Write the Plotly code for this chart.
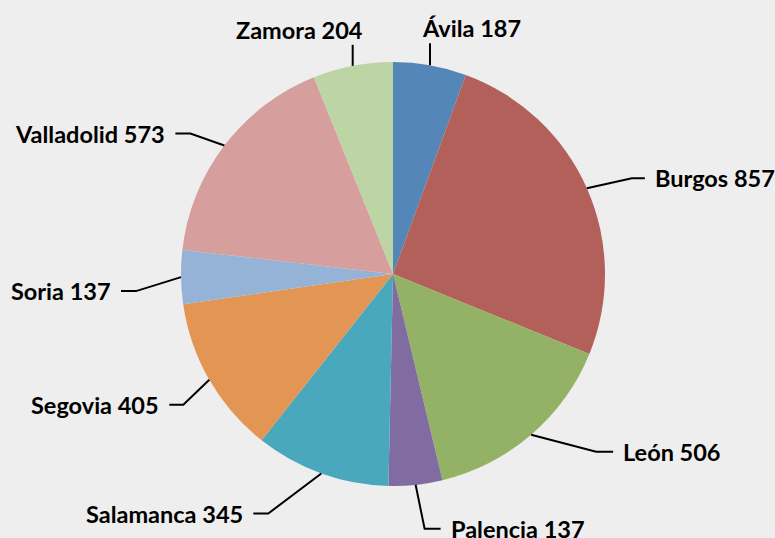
import math
import plotly.graph_objects as go

# ---- data ----
labels = ["Ávila", "Burgos", "León", "Palencia", "Salamanca", "Segovia", "Soria", "Valladolid", "Zamora"]
values = [187, 857, 506, 137, 345, 405, 137, 573, 204]
colors = ["#5486b8", "#b4605a", "#93b266", "#806ca0", "#4aa8bc", "#e39654",
          "#95b3d6", "#d69e9c", "#bdd4a4"]

# ---- layout (pixels) ----
W, H = 775, 538
CX, CY, R = 393, 274, 212
# leader line elbow offset from slice edge (dx, dy) and horizontal tail length
leader = [(0, -22, 0), (45, -10, 13), (65, 17, 17), (9, 44, 16), (-53, 40, -15),
          (-26, 25, -14), (-45, 14, -15), (-34, -12, -15), (0, -21, 0)]
GAP = 8


def px(x):
    return x / W


def py(y):
    return 1 - y / H


fig = go.Figure(go.Pie(
    labels=labels, values=values, sort=False, direction="clockwise", rotation=0,
    marker=dict(colors=colors, line=dict(width=0)),
    textinfo="none", hoverinfo="label+value", showlegend=False,
    domain=dict(x=[px(CX - R), px(CX + R)], y=[py(CY + R), py(CY - R)]),
))

total = sum(values)
cum = 0
shapes, annotations = [], []
for lab, v, (dx, dy, tail) in zip(labels, values, leader):
    th = (cum + v / 2) / total * 2 * math.pi
    cum += v
    sx, sy = CX + R * math.sin(th), CY - R * math.cos(th)
    ex, ey = sx + dx, sy + dy
    tx, ty = ex + tail, ey
    shapes.append(dict(type="path", xref="paper", yref="paper",
                       path=f"M {px(sx)},{py(sy)} L {px(ex)},{py(ey)} L {px(tx)},{py(ty)}",
                       line=dict(color="black", width=2)))
    text = f"<b>{lab} {v}</b>"
    if tail == 0:
        if math.sin(th) >= 0:
            ax, anc = ex - 10, "left"
        else:
            ax, anc = ex + 12, "right"
        annotations.append(dict(x=px(ax), y=py(ey + 1), xref="paper", yref="paper",
                                text=text, showarrow=False, xanchor=anc, yanchor="bottom"))
    else:
        if tail > 0:
            ax, anc = tx + GAP, "left"
        else:
            ax, anc = tx - GAP, "right"
        annotations.append(dict(x=px(ax), y=py(ty), xref="paper", yref="paper",
                                text=text, showarrow=False, xanchor=anc, yanchor="middle"))

fig.update_layout(
    width=W, height=H, margin=dict(l=0, r=0, t=0, b=0),
    paper_bgcolor="#eeeeee", plot_bgcolor="#eeeeee",
    font=dict(family="Lato", size=23.5, color="black"),
    shapes=shapes, annotations=annotations,
)
fig.write_html("out.html", config={"displayModeBar": False},
               post_script="document.body.style.margin='0';")
